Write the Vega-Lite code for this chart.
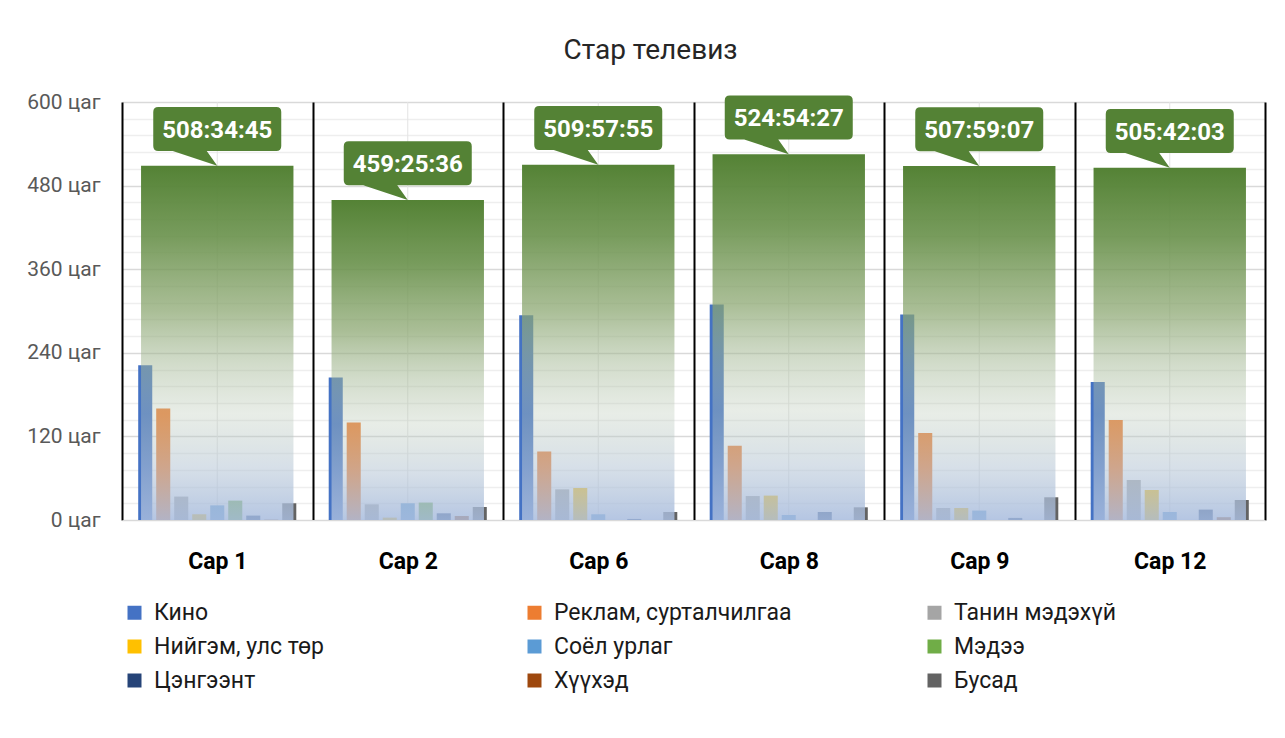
{
  "$schema": "https://vega.github.io/schema/vega-lite/v6.json",
  "width": 1143,
  "height": 418,
  "autosize": "none",
  "padding": {"left": 122, "top": 102, "right": 20, "bottom": 218},
  "background": "white",
  "config": {"view": {"stroke": null}, "font": "Roboto"},
  "title": {"text": "Стар телевиз", "fontSize": 28, "fontWeight": "normal", "color": "#262626", "font": "Roboto", "anchor": "middle", "frame": "group", "dx": -43, "offset": 4, "baseline": "alphabetic"},
  "datasets": {
    "series": [
      {"month": "Сар 1", "cat": "Кино", "hours": 222.3},
      {"month": "Сар 1", "cat": "Реклам, сурталчилгаа", "hours": 160.2},
      {"month": "Сар 1", "cat": "Танин мэдэхүй", "hours": 33.6},
      {"month": "Сар 1", "cat": "Нийгэм, улс төр", "hours": 8.2},
      {"month": "Сар 1", "cat": "Соёл урлаг", "hours": 21},
      {"month": "Сар 1", "cat": "Мэдээ", "hours": 27.8},
      {"month": "Сар 1", "cat": "Цэнгээнт", "hours": 6.3},
      {"month": "Сар 1", "cat": "Хүүхэд", "hours": 0.5},
      {"month": "Сар 1", "cat": "Бусад", "hours": 24},
      {"month": "Сар 2", "cat": "Кино", "hours": 204.7},
      {"month": "Сар 2", "cat": "Реклам, сурталчилгаа", "hours": 140.1},
      {"month": "Сар 2", "cat": "Танин мэдэхүй", "hours": 22.5},
      {"month": "Сар 2", "cat": "Нийгэм, улс төр", "hours": 3.4},
      {"month": "Сар 2", "cat": "Соёл урлаг", "hours": 24},
      {"month": "Сар 2", "cat": "Мэдээ", "hours": 25},
      {"month": "Сар 2", "cat": "Цэнгээнт", "hours": 9.6},
      {"month": "Сар 2", "cat": "Хүүхэд", "hours": 5.7},
      {"month": "Сар 2", "cat": "Бусад", "hours": 18.7},
      {"month": "Сар 6", "cat": "Кино", "hours": 294},
      {"month": "Сар 6", "cat": "Реклам, сурталчилгаа", "hours": 98.5},
      {"month": "Сар 6", "cat": "Танин мэдэхүй", "hours": 44},
      {"month": "Сар 6", "cat": "Нийгэм, улс төр", "hours": 45.9},
      {"month": "Сар 6", "cat": "Соёл урлаг", "hours": 8.2},
      {"month": "Сар 6", "cat": "Мэдээ", "hours": 0},
      {"month": "Сар 6", "cat": "Цэнгээнт", "hours": 1.5},
      {"month": "Сар 6", "cat": "Хүүхэд", "hours": 0},
      {"month": "Сар 6", "cat": "Бусад", "hours": 11.5},
      {"month": "Сар 8", "cat": "Кино", "hours": 309.4},
      {"month": "Сар 8", "cat": "Реклам, сурталчилгаа", "hours": 106.7},
      {"month": "Сар 8", "cat": "Танин мэдэхүй", "hours": 34.4},
      {"month": "Сар 8", "cat": "Нийгэм, улс төр", "hours": 35},
      {"month": "Сар 8", "cat": "Соёл урлаг", "hours": 7.2},
      {"month": "Сар 8", "cat": "Мэдээ", "hours": 0},
      {"month": "Сар 8", "cat": "Цэнгээнт", "hours": 11.5},
      {"month": "Сар 8", "cat": "Хүүхэд", "hours": 0},
      {"month": "Сар 8", "cat": "Бусад", "hours": 18.2},
      {"month": "Сар 9", "cat": "Кино", "hours": 295},
      {"month": "Сар 9", "cat": "Реклам, сурталчилгаа", "hours": 124.8},
      {"month": "Сар 9", "cat": "Танин мэдэхүй", "hours": 17.2},
      {"month": "Сар 9", "cat": "Нийгэм, улс төр", "hours": 17.2},
      {"month": "Сар 9", "cat": "Соёл урлаг", "hours": 13.5},
      {"month": "Сар 9", "cat": "Мэдээ", "hours": 0},
      {"month": "Сар 9", "cat": "Цэнгээнт", "hours": 3},
      {"month": "Сар 9", "cat": "Хүүхэд", "hours": 0},
      {"month": "Сар 9", "cat": "Бусад", "hours": 32.6},
      {"month": "Сар 12", "cat": "Кино", "hours": 198},
      {"month": "Сар 12", "cat": "Реклам, сурталчилгаа", "hours": 143.4},
      {"month": "Сар 12", "cat": "Танин мэдэхүй", "hours": 57.4},
      {"month": "Сар 12", "cat": "Нийгэм, улс төр", "hours": 43},
      {"month": "Сар 12", "cat": "Соёл урлаг", "hours": 11.5},
      {"month": "Сар 12", "cat": "Мэдээ", "hours": 0},
      {"month": "Сар 12", "cat": "Цэнгээнт", "hours": 14.9},
      {"month": "Сар 12", "cat": "Хүүхэд", "hours": 4},
      {"month": "Сар 12", "cat": "Бусад", "hours": 28.7}
    ],
    "totals": [
      {"month": "Сар 1", "total": 508.579, "label": "508:34:45"},
      {"month": "Сар 2", "total": 459.427, "label": "459:25:36"},
      {"month": "Сар 6", "total": 509.965, "label": "509:57:55"},
      {"month": "Сар 8", "total": 524.908, "label": "524:54:27"},
      {"month": "Сар 9", "total": 507.985, "label": "507:59:07"},
      {"month": "Сар 12", "total": 505.701, "label": "505:42:03"}
    ]
  },
  "layer": [
    {
      "data": {"name": "totals"},
      "mark": {"type": "rule", "color": "#e3e3e3", "strokeWidth": 1},
      "encoding": {
        "x": {
          "field": "month", "type": "nominal",
          "sort": ["Сар 1", "Сар 2", "Сар 6", "Сар 8", "Сар 9", "Сар 12"],
          "scale": {"paddingInner": 0, "paddingOuter": 0},
          "axis": {
            "title": null, "labelAngle": 0, "labelFontSize": 23, "labelFontWeight": "bold", "labelColor": "#000000", "labelFont": "Roboto",
            "labelPadding": 48, "labelBaseline": "alphabetic", "ticks": false,
            "domain": true, "domainColor": "#d9d9d9", "domainWidth": 1,
            "grid": true, "gridColor": "#000000", "gridWidth": 2, "tickBand": "extent", "zindex": 1
          }
        },
        "y": {
          "datum": 0, "type": "quantitative",
          "scale": {"domain": [0, 600], "nice": false},
          "axis": {
            "title": null,
            "values": [0, 24, 48, 72, 96, 120, 144, 168, 192, 216, 240, 264, 288, 312, 336, 360, 384, 408, 432, 456, 480, 504, 528, 552, 576, 600],
            "tickCount": 40,
            "labelExpr": "datum.value % 120 === 0 ? datum.value + ' цаг' : ''",
            "labelOverlap": false, "labelFontSize": 21, "labelColor": "#595959", "labelFont": "Roboto",
            "labelPadding": 22, "ticks": false, "domain": false, "grid": true,
            "gridColor": {"condition": {"test": "datum.value % 120 === 0", "value": "#d9d9d9"}, "value": "#eeeeee"},
            "gridWidth": 1.3
          }
        },
        "y2": {"datum": 600}
      }
    },
    {
      "data": {"name": "series"},
      "mark": {"type": "bar", "opacity": 1},
      "encoding": {
        "x": {"field": "month", "type": "nominal", "sort": ["Сар 1", "Сар 2", "Сар 6", "Сар 8", "Сар 9", "Сар 12"]},
        "xOffset": {
          "field": "cat", "type": "nominal",
          "sort": ["Кино", "Реклам, сурталчилгаа", "Танин мэдэхүй", "Нийгэм, улс төр", "Соёл урлаг", "Мэдээ", "Цэнгээнт", "Хүүхэд", "Бусад"],
          "scale": {"paddingInner": 0.22, "paddingOuter": 0.9}
        },
        "y": {"field": "hours", "type": "quantitative"},
        "color": {
          "field": "cat", "type": "nominal",
          "scale": {
            "domain": ["Кино", "Нийгэм, улс төр", "Цэнгээнт", "Реклам, сурталчилгаа", "Соёл урлаг", "Хүүхэд", "Танин мэдэхүй", "Мэдээ", "Бусад"],
            "range": ["#4472C4", "#FFC000", "#264478", "#ED7D31", "#5B9BD5", "#9E480E", "#A5A5A5", "#70AD47", "#636363"]
          },
          "legend": {
            "title": null, "orient": "none", "legendX": 1, "legendY": 499, "columns": 3,
            "symbolType": "square", "symbolSize": 196, "symbolStrokeWidth": 0,
            "labelFontSize": 23, "labelColor": "#1a1a1a", "labelFont": "Roboto", "labelOffset": 8,
            "rowPadding": 10, "columnPadding": 131, "gridAlign": "all", "labelLimit": 400
          }
        }
      }
    },
    {
      "data": {"name": "totals"},
      "mark": {
        "type": "bar", "width": {"band": 0.8}, "opacity": 1,
        "fill": {
          "gradient": "linear", "x1": 0, "y1": 0, "x2": 0, "y2": 1,
          "stops": [
            {"offset": 0, "color": "rgba(84,130,53,1)"},
            {"offset": 0.2, "color": "rgba(105,145,75,0.9)"},
            {"offset": 0.41, "color": "rgba(137,165,110,0.72)"},
            {"offset": 0.56, "color": "rgba(165,185,150,0.5)"},
            {"offset": 0.7, "color": "rgba(189,203,186,0.35)"},
            {"offset": 0.85, "color": "rgba(182,198,214,0.55)"},
            {"offset": 1, "color": "rgba(168,188,222,0.85)"}
          ]
        }
      },
      "encoding": {
        "x": {"field": "month", "type": "nominal", "sort": ["Сар 1", "Сар 2", "Сар 6", "Сар 8", "Сар 9", "Сар 12"]},
        "y": {"field": "total", "type": "quantitative"}
      }
    },
    {
      "data": {"name": "totals"},
      "mark": {
        "type": "point", "filled": true, "opacity": 1, "color": "#548235", "strokeWidth": 0, "size": 400,
        "shape": "M -5.9 -5.88 L 5.9 -5.88 Q 6.4 -5.88 6.4 -5.38 L 6.4 -1.98 Q 6.4 -1.48 5.9 -1.48 L -1.05 -1.48 L 0 0 L -4.45 -1.48 L -5.9 -1.48 Q -6.4 -1.48 -6.4 -1.98 L -6.4 -5.38 Q -6.4 -5.88 -5.9 -5.88 Z"
      },
      "encoding": {
        "x": {"field": "month", "type": "nominal", "sort": ["Сар 1", "Сар 2", "Сар 6", "Сар 8", "Сар 9", "Сар 12"]},
        "y": {"field": "total", "type": "quantitative"}
      }
    },
    {
      "data": {"name": "totals"},
      "mark": {"type": "text", "dy": -35, "fontSize": 24, "fontWeight": "bold", "color": "#ffffff", "font": "Roboto", "baseline": "middle", "align": "center"},
      "encoding": {
        "x": {"field": "month", "type": "nominal", "sort": ["Сар 1", "Сар 2", "Сар 6", "Сар 8", "Сар 9", "Сар 12"]},
        "y": {"field": "total", "type": "quantitative"},
        "text": {"field": "label"}
      }
    }
  ]
}
